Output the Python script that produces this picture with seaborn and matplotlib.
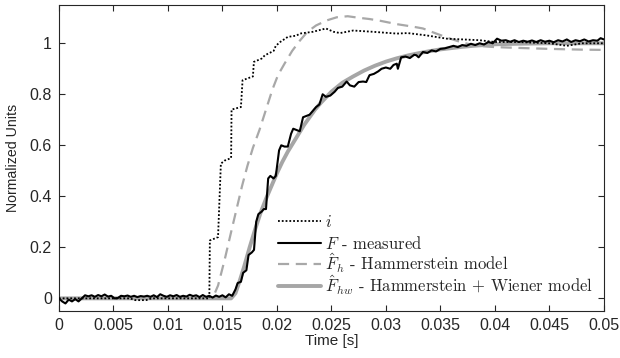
import matplotlib
matplotlib.use("Agg")
import matplotlib.pyplot as plt
from matplotlib.legend import Legend
import seaborn as sns
import numpy as np

# ---------------- data ----------------
t_i = [0.0, 0.002, 0.0065, 0.007, 0.008, 0.0085, 0.0138, 0.01385, 0.0146, 0.01486,
       0.0152, 0.0158, 0.01584, 0.0167, 0.01685, 0.0178, 0.01789, 0.0186, 0.0189,
       0.0197, 0.0199, 0.0203, 0.021, 0.0218, 0.0221, 0.0233, 0.0245, 0.0252,
       0.0258, 0.027, 0.0288, 0.031, 0.032, 0.0337, 0.0356, 0.0386, 0.04, 0.042,
       0.045, 0.0466, 0.048, 0.05]
i_vals = [0.0, 0.0, 0.0, -0.007, -0.007, 0.0, 0.0, 0.227, 0.24, 0.528,
          0.54, 0.55, 0.74, 0.75, 0.855, 0.87, 0.927, 0.94, 0.953,
          0.97, 0.99, 1.005, 1.025, 1.03, 1.038, 1.045, 1.058, 1.045,
          1.04, 1.05, 1.045, 1.038, 1.04, 1.031, 1.018, 1.012, 1.005, 1.005,
          1.0, 0.99, 1.0, 1.0]

t_F = [0.0, 0.0003, 0.0006, 0.0009, 0.0012, 0.0015, 0.0018, 0.0021, 0.0024, 0.0027,
       0.003, 0.0033, 0.0036, 0.0039, 0.0042, 0.0045, 0.0048, 0.0051, 0.0054, 0.0057,
       0.006, 0.0063, 0.0066, 0.0069, 0.0072, 0.0075, 0.0078, 0.0081, 0.0084, 0.0087,
       0.009, 0.0093, 0.0096, 0.0099, 0.0102, 0.0105, 0.0108, 0.0111, 0.0114, 0.0117,
       0.012, 0.0123, 0.0126, 0.0129, 0.0132, 0.0135, 0.0138, 0.0141, 0.0144, 0.0147,
       0.015, 0.0153, 0.0156, 0.0159, 0.0162, 0.0164, 0.0167, 0.0169, 0.0172, 0.0174,
       0.0177, 0.0179, 0.0181, 0.0183, 0.0186, 0.0188, 0.019, 0.0192, 0.0194, 0.0197,
       0.0199, 0.0202, 0.0204, 0.0207, 0.021, 0.0213, 0.0215, 0.0218, 0.0221, 0.0224,
       0.0227, 0.023, 0.0233, 0.0236, 0.0239, 0.0242, 0.0245, 0.0249, 0.0253, 0.0256,
       0.026, 0.0264, 0.0267, 0.0271, 0.0275, 0.0279, 0.0282, 0.0285, 0.0289, 0.0293,
       0.0296, 0.03, 0.0304, 0.0307, 0.031, 0.0311, 0.0314, 0.0318, 0.0322, 0.0326,
       0.0328, 0.033, 0.0334, 0.0338, 0.0342, 0.0346, 0.035, 0.0354, 0.0358, 0.0362,
       0.0366, 0.037, 0.0374, 0.0378, 0.0382, 0.0386, 0.039, 0.0394, 0.0398, 0.0402,
       0.0406, 0.041, 0.0414, 0.0418, 0.0422, 0.0426, 0.043, 0.0434, 0.0438, 0.0442,
       0.0446, 0.045, 0.0454, 0.0458, 0.0462, 0.0466, 0.047, 0.0474, 0.0478, 0.0482,
       0.0486, 0.049, 0.0494, 0.0497, 0.05]
F_vals = [0.0, -0.012, -0.02, -0.005, -0.012, -0.003, -0.012, 0.0, 0.012, 0.008,
          0.012, 0.006, 0.013, 0.008, 0.015, 0.007, 0.01, 0.0, 0.001, 0.01,
          0.008, 0.011, 0.006, 0.01, 0.005, 0.009, 0.007, 0.01, 0.006, 0.012,
          0.005, 0.016, 0.01, 0.006, 0.012, 0.008, 0.013, 0.006, 0.01, 0.007,
          0.014, 0.009, 0.012, 0.005, 0.013, 0.006, 0.01, 0.003, 0.011, 0.006,
          0.012, 0.004, 0.016, 0.01, 0.035, 0.06, 0.065, 0.1, 0.11, 0.17,
          0.18, 0.19, 0.3, 0.33, 0.34, 0.35, 0.35, 0.47, 0.48, 0.47,
          0.48, 0.58, 0.6, 0.595, 0.595, 0.645, 0.665, 0.66, 0.655, 0.71,
          0.715, 0.72, 0.735, 0.75, 0.76, 0.8, 0.79, 0.795, 0.81, 0.825,
          0.83, 0.85, 0.835, 0.83, 0.848, 0.85, 0.848, 0.875, 0.88, 0.89,
          0.9, 0.905, 0.9, 0.915, 0.92, 0.9, 0.945, 0.948, 0.942, 0.955,
          0.953, 0.945, 0.966, 0.962, 0.972, 0.968, 0.978, 0.98, 0.985, 0.99,
          0.985, 0.993, 0.99, 0.998, 0.993, 1.0, 0.995, 1.005, 1.0, 1.018,
          1.01, 1.012, 1.006, 1.012, 1.005, 1.01, 1.006, 1.011, 1.005, 1.012,
          1.006, 1.01, 1.004, 1.012, 1.007, 1.015, 1.005, 1.012, 1.008, 1.015,
          1.007, 1.012, 1.01, 1.02, 1.015]

t_h = [0.0, 0.005, 0.01, 0.0141, 0.0146, 0.0152, 0.0158, 0.0163, 0.0168, 0.0173,
       0.0178, 0.0184, 0.019, 0.0196, 0.0201, 0.0207, 0.0214, 0.0221, 0.0228, 0.0236,
       0.0246, 0.0255, 0.0265, 0.0275, 0.0285, 0.0295, 0.031, 0.0325, 0.0334, 0.0345,
       0.0359, 0.037, 0.038, 0.039, 0.04, 0.042, 0.045, 0.048, 0.05]
Fh_vals = [0.0, 0.0, 0.0, 0.0, 0.05, 0.15, 0.26, 0.35, 0.44, 0.52,
           0.59, 0.66, 0.74, 0.82, 0.875, 0.92, 0.97, 1.01, 1.045, 1.07,
           1.09, 1.102, 1.106, 1.1, 1.095, 1.088, 1.075, 1.065, 1.058, 1.04,
           1.018, 1.003, 0.993, 0.988, 0.985, 0.982, 0.978, 0.975, 0.974]

t_hw = [0.0, 0.005, 0.01, 0.0158, 0.0162, 0.0166, 0.017, 0.0175, 0.018, 0.0185,
        0.019, 0.0195, 0.02, 0.0205, 0.021, 0.0215, 0.022, 0.0225, 0.023, 0.0235,
        0.024, 0.025, 0.026, 0.027, 0.028, 0.029, 0.03, 0.031, 0.032, 0.033,
        0.034, 0.035, 0.036, 0.037, 0.038, 0.039, 0.04, 0.042, 0.045, 0.05]
Fhw_vals = [0.0, 0.0, 0.0, 0.0, 0.02, 0.07, 0.125, 0.2, 0.27, 0.335,
            0.39, 0.44, 0.49, 0.535, 0.575, 0.61, 0.645, 0.68, 0.71, 0.74,
            0.765, 0.81, 0.845, 0.87, 0.893, 0.912, 0.928, 0.941, 0.952, 0.961,
            0.969, 0.976, 0.981, 0.986, 0.99, 0.993, 0.996, 0.998, 1.0, 1.0]

x_ticks = [0, 0.005, 0.01, 0.015, 0.02, 0.025, 0.03, 0.035, 0.04, 0.045, 0.05]
x_labels = ["0", "0.005", "0.01", "0.015", "0.02", "0.025", "0.03", "0.035", "0.04", "0.045", "0.05"]
y_ticks = [0, 0.2, 0.4, 0.6, 0.8, 1.0]
y_labels = ["0", "0.2", "0.4", "0.6", "0.8", "1"]

labels = [r"$i$", r"$F$ - measured", r"$\hat{F}_h$ - Hammerstein model",
          r"$\hat{F}_{hw}$ - Hammerstein + Wiener model"]

# ---------------- style ----------------
sns.set_theme(style="white")
plt.rcParams["font.family"] = ["Liberation Sans", "DejaVu Sans"]
plt.rcParams["mathtext.fontset"] = "cm"
plt.rcParams["axes.unicode_minus"] = False
axcol = "#262626"

fig = plt.figure(figsize=(6.2, 3.58), dpi=100)
ax = fig.add_axes([0.095, 0.131, 0.879, 0.855])

sns.lineplot(x=t_hw, y=Fhw_vals, ax=ax, color="#a6a6a6", linewidth=2.8,
             estimator=None, sort=False, legend=False, zorder=2)
sns.lineplot(x=t_F, y=F_vals, ax=ax, color="black", linewidth=1.5,
             estimator=None, sort=False, legend=False, zorder=3)
sns.lineplot(x=t_h, y=Fh_vals, ax=ax, color="#a8a8a8", linewidth=1.6,
             estimator=None, sort=False, legend=False, zorder=2)
sns.lineplot(x=t_i, y=i_vals, ax=ax, color="black", linewidth=1.3,
             estimator=None, sort=False, legend=False, zorder=4)
lines = ax.get_lines()
lines[2].set_dashes([5, 3])
lines[3].set_linestyle((0, (1, 1.1)))
for ln in lines:
    ln.set_solid_joinstyle("round")
handle_for = {labels[3]: lines[0], labels[1]: lines[1],
              labels[2]: lines[2], labels[0]: lines[3]}

ax.set_xlim(0, 0.05)
ax.set_ylim(-0.05, 1.15)
ax.set_xticks(x_ticks)
ax.set_xticklabels(x_labels)
ax.set_yticks(y_ticks)
ax.set_yticklabels(y_labels)
ax.tick_params(direction="in", length=4, width=0.8, colors=axcol, labelsize=11.5,
               top=True, right=True, bottom=True, left=True, pad=5)
for s in ax.spines.values():
    s.set_color(axcol)
    s.set_linewidth(0.8)
ax.set_xlabel("Time [s]", fontsize=11, color=axcol, labelpad=1)
ax.set_ylabel("Normalized Units", fontsize=10.2, color=axcol, labelpad=7)

row_y = [0.291, 0.222, 0.157, 0.085]
for lab, yy in zip(labels, row_y):
    lg = Legend(ax, [handle_for[lab]], [lab], loc="center left",
                bbox_to_anchor=(0.402, yy), frameon=False, handlelength=2.6,
                handletextpad=0.25, borderaxespad=0, borderpad=0,
                prop={"family": "cmr10", "size": 12})
    ax.add_artist(lg)

fig.savefig("out.png", dpi=100)
